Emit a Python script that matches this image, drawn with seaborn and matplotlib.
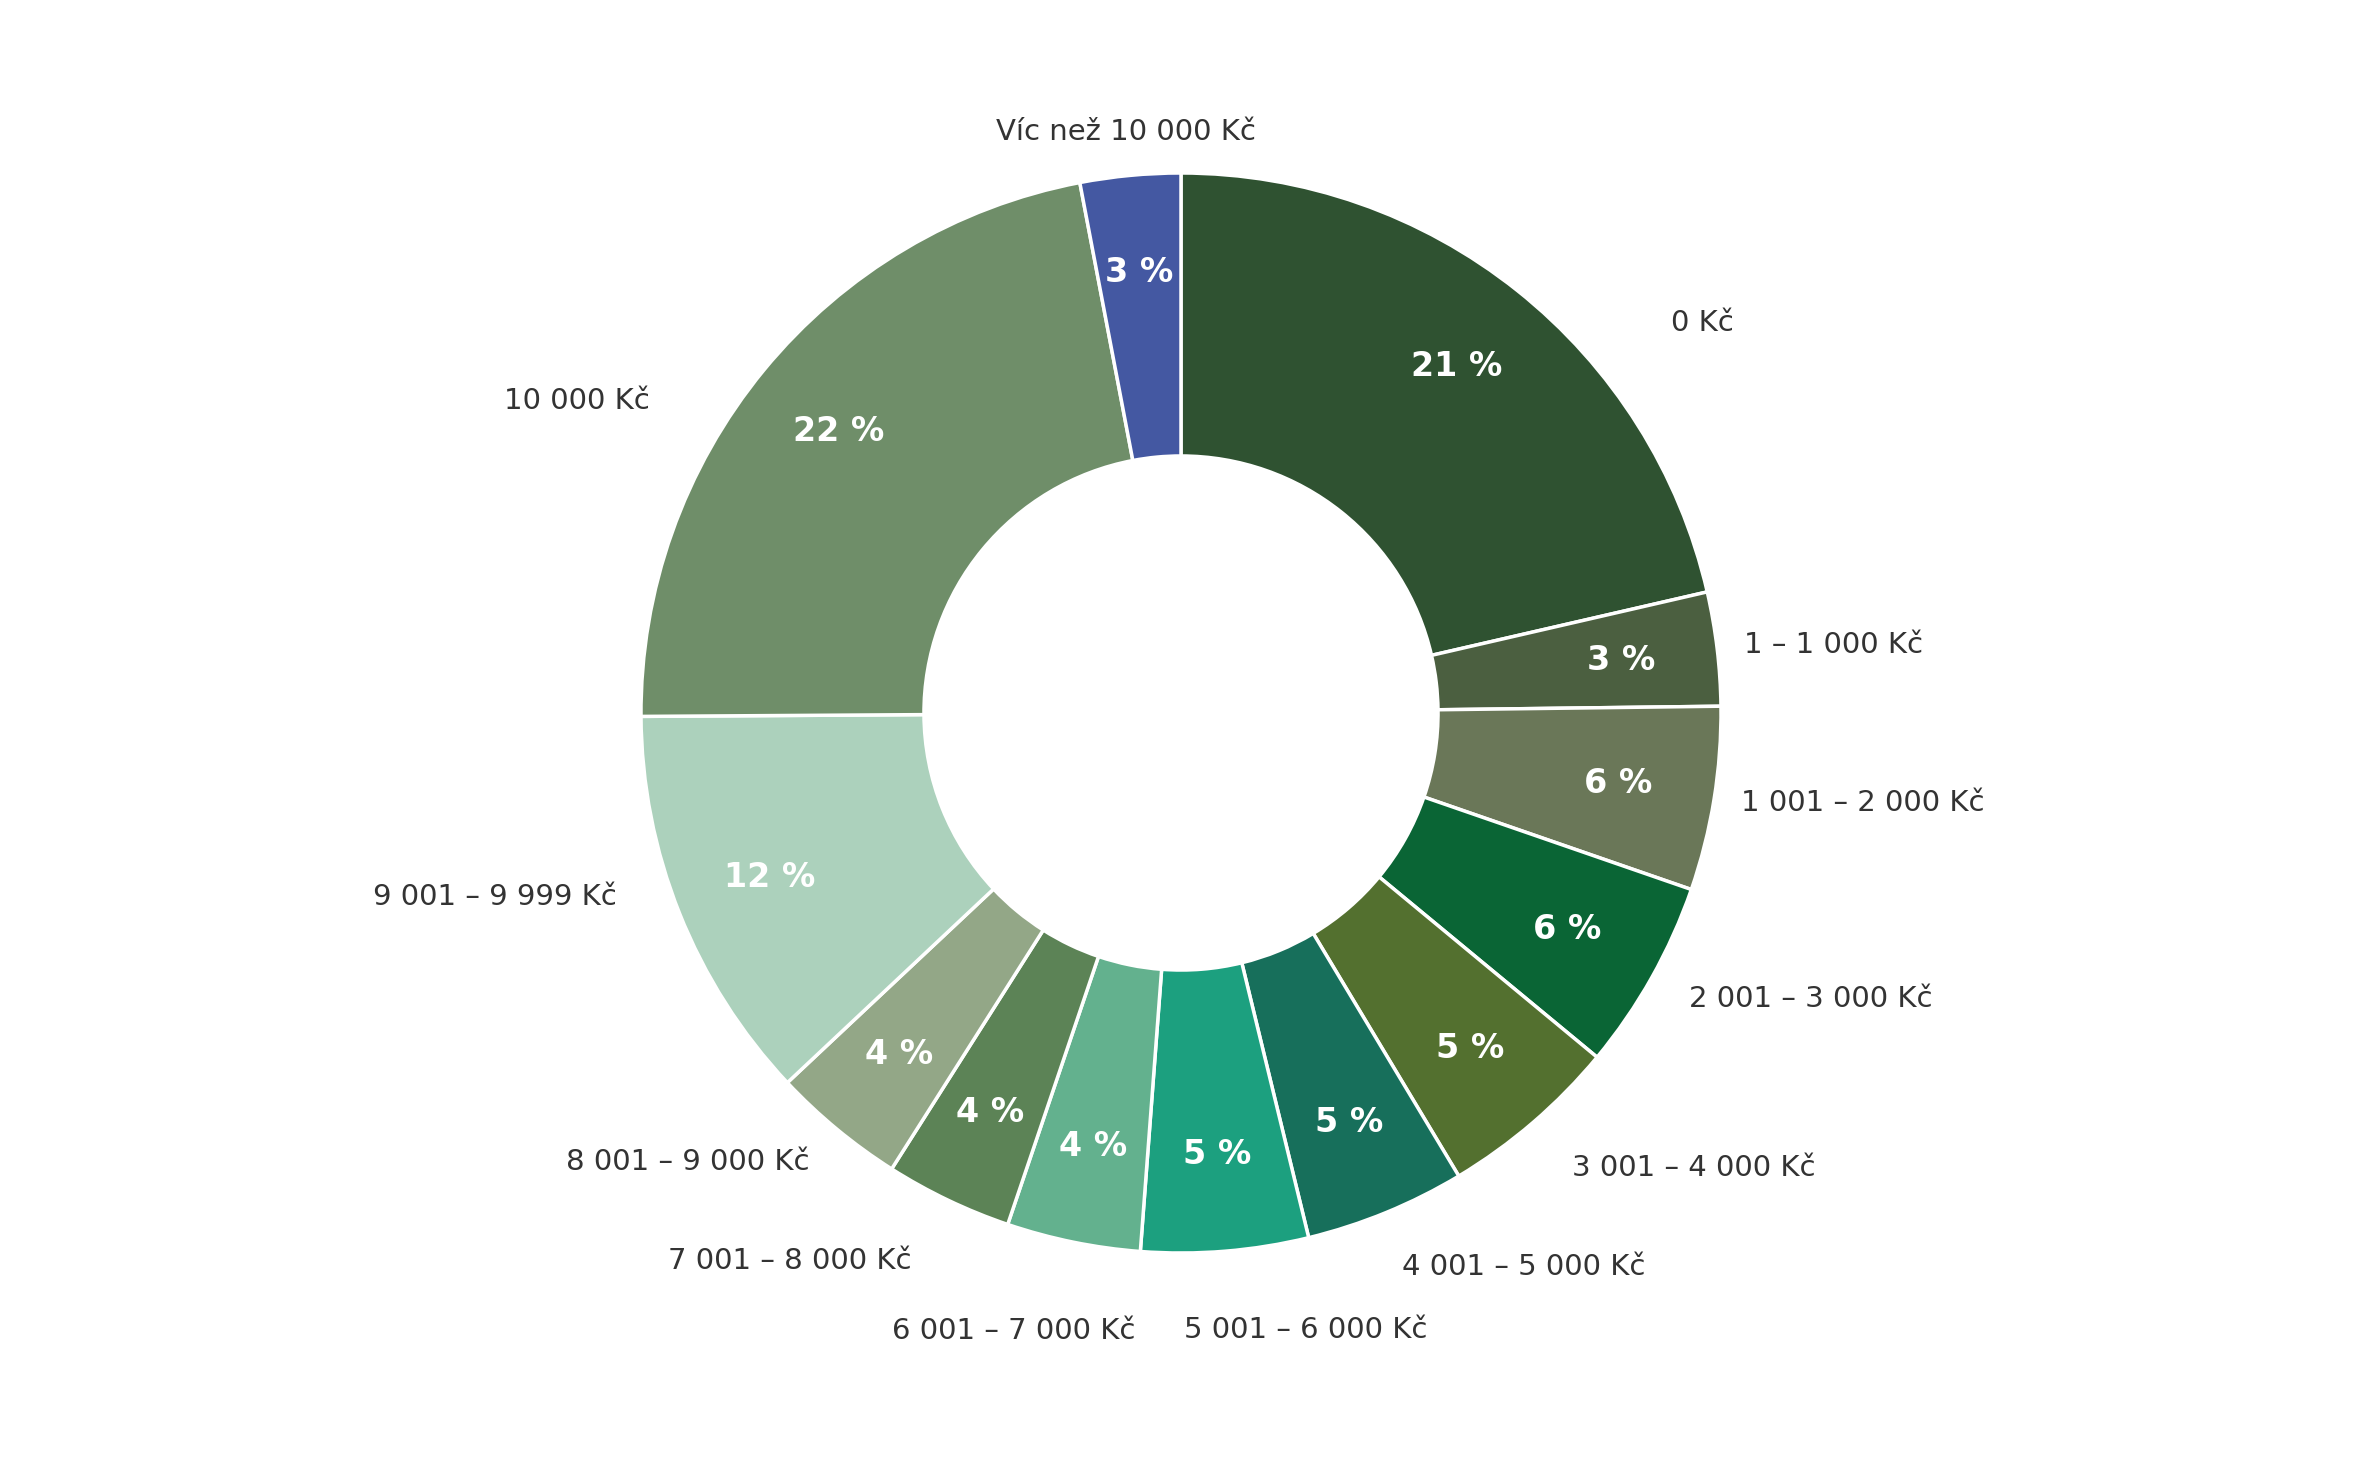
import numpy as np
import matplotlib
matplotlib.use("Agg")
import matplotlib.pyplot as plt
import seaborn as sns

# data (share of respondents, %)
categories = ["0 Kč", "1 – 1 000 Kč", "1 001 – 2 000 Kč", "2 001 – 3 000 Kč",
              "3 001 – 4 000 Kč", "4 001 – 5 000 Kč", "5 001 – 6 000 Kč",
              "6 001 – 7 000 Kč", "7 001 – 8 000 Kč", "8 001 – 9 000 Kč",
              "9 001 – 9 999 Kč", "10 000 Kč", "Víc než 10 000 Kč"]
shares = [21.4, 3.4, 5.5, 5.7, 5.4, 4.8, 5.0, 4.0, 3.8, 4.0, 11.9, 22.1, 3.0]
colors = ["#2f5231", "#4b5f40", "#6a7758", "#0a6535", "#53702f", "#176f5b",
          "#1ca07f", "#63b18e", "#5c8356", "#93a787", "#acd1bc", "#6f8e69",
          "#4458a2"]

# outside labels: (angle nudge in degrees, radius) where they were pushed aside
label_nudge = {0: (13, 1.16), 1: (0, 1.05), 2: (0, 1.05), 4: (0, 1.11),
               6: (-7, 1.14), 7: (4, 1.16), 8: (0.6, 1.13), 10: (3.7, 1.10),
               11: (-9, 1.14)}

sns.set_theme(style="white")
plt.rcParams["font.family"] = ["DejaVu Sans"]

W, H = 2361, 1473
fig = plt.figure(figsize=(W / 100, H / 100), dpi=100)
fig.patch.set_facecolor("white")

# place pie: centre (1181, 713) px, radius 540 px
cx, cy, R = 1181, 713, 540
lim = 1.35
side = 2 * lim * R
ax = fig.add_axes([(cx - side / 2) / W, 1 - (cy + side / 2) / H, side / W, side / H])

wedges, _, autotexts = ax.pie(
    shares, colors=colors, startangle=90, counterclock=False, radius=1,
    autopct=lambda p: f"{p:.0f} %", pctdistance=0.82,
    wedgeprops=dict(width=0.524, edgecolor="white", linewidth=2.5),
    textprops=dict(color="white", fontsize=24, fontweight="bold"))

ax.set_xlim(-lim, lim)
ax.set_ylim(-lim, lim)
ax.set_aspect("equal")
ax.axis("off")

# outside category labels
total = sum(shares)
cum = np.cumsum([0] + shares[:-1])
for i, (cat, s, c0) in enumerate(zip(categories, shares, cum)):
    dth, r = label_nudge.get(i, (0, 1.08))
    theta = (c0 + s / 2) / total * 360 + dth
    t = np.deg2rad(theta)
    sx, cyy = np.sin(t), np.cos(t)
    ha = "left" if sx > 0.3 else ("right" if sx < -0.3 else "center")
    va = "top" if cyy < -0.9 else "center"
    ax.text(r * sx, r * cyy, cat, ha=ha, va=va, fontsize=21, color="#333333")

fig.savefig("out.png", dpi=100, facecolor="white")
